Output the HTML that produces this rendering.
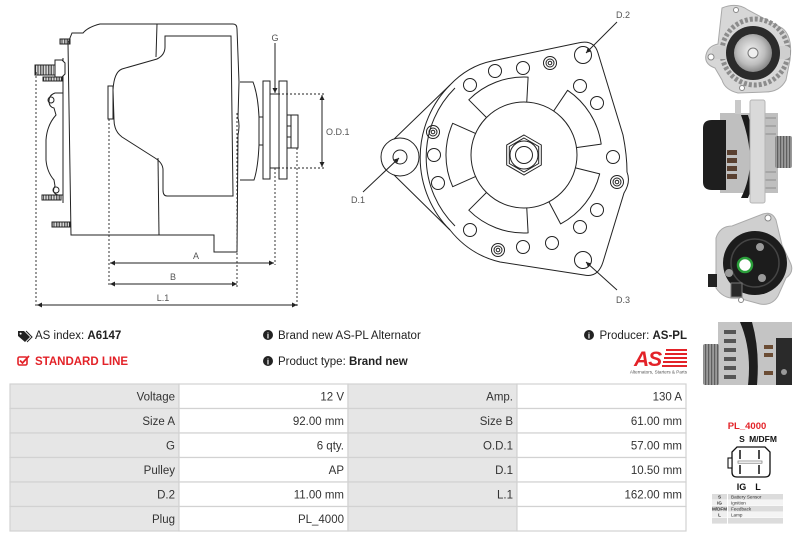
<!DOCTYPE html>
<html><head><meta charset="utf-8"><style>
html,body{margin:0;padding:0;background:#fff;width:800px;height:540px;overflow:hidden}
svg{display:block}
text{font-family:"Liberation Sans",Arial,sans-serif}
</style></head><body>
<svg width="800" height="540" viewBox="0 0 800 540" xmlns="http://www.w3.org/2000/svg">
<defs>
<marker id="ah" viewBox="0 0 6 6" refX="6" refY="3" markerWidth="5" markerHeight="5" markerUnits="userSpaceOnUse" orient="auto-start-reverse"><path d="M0,0 L6,3 L0,6 z" fill="#222"/></marker>
<pattern id="h" width="1.6" height="4" patternUnits="userSpaceOnUse"><rect width="0.8" height="4" fill="#333"/></pattern>
<radialGradient id="hub" cx="0.45" cy="0.45" r="0.6"><stop offset="0" stop-color="#f2f2f2"/><stop offset="0.6" stop-color="#bdbdbd"/><stop offset="1" stop-color="#7d7d7d"/></radialGradient>
<pattern id="rib" width="3" height="4" patternUnits="userSpaceOnUse"><rect width="3" height="4" fill="#9a9a9a"/><rect width="1.2" height="4" fill="#5e5e5e"/></pattern>
</defs>
<rect width="800" height="540" fill="#fff"/>

<!-- LEFT SIDE DRAWING -->
<g stroke="#222" stroke-width="1" fill="none">
<path d="M72,33 L83,33 Q88,27 100,24 L233,24 Q237,24 237,29 L239,82 L238,118 Q240,125 238,135 L237,252 L214,252 L214,235 L71,235 L68,43 Z" fill="#fff"/>
<path d="M157,24 L156,57"/>
<path d="M158,158 L159,235"/>
<path d="M165,36 L231,36 L233,196 L167,196 Q163,196 163,190 L163,170 Q163,163 155,158 L122,137 Q114,131 114,120 L113,90 Q114,72 122,69 L157,59 Q165,55 165,47 Z"/>
<rect x="108" y="86" width="5" height="33"/>
<path d="M240,82 L253,82 Q258,95 259,117 L259,145 Q258,168 254,180 L240,180"/>
<rect x="259" y="117" width="4" height="28"/>
<rect x="263" y="81" width="7" height="98"/>
<rect x="270" y="94" width="9" height="74"/>
<rect x="279" y="81" width="8" height="98"/>
<rect x="287" y="115" width="11" height="33"/>
<line x1="291" y1="115" x2="291" y2="148"/>
<line x1="287" y1="126" x2="291" y2="126"/>
<line x1="287" y1="137" x2="291" y2="137"/>
<!-- rear cover -->
<line x1="63" y1="58" x2="63" y2="203"/>
<path d="M63,93 L55,93 Q49,95 49,101 Q49,107 54,108 L56,115 Q47,125 46,140 L46,160 Q47,172 54,180 L55,186 Q51,193 58,195 L63,195"/>
<circle cx="51" cy="100" r="3"/>
<circle cx="56" cy="190" r="3"/>
<!-- bolts -->
<rect x="60" y="39" width="10" height="5" fill="url(#h)"/>
<rect x="35" y="65" width="20" height="10" fill="url(#h)"/>
<path d="M55,60 L62,60 L65,63 L65,74 L62,77 L55,77 Z" fill="#fff"/>
<rect x="43" y="77" width="19" height="4" fill="url(#h)"/>
<rect x="42" y="195" width="19" height="5" fill="url(#h)"/>
<rect x="52" y="222" width="18" height="5" fill="url(#h)"/>
<!-- dashed -->
<g stroke-dasharray="2,2" stroke-width="0.9">
<line x1="36" y1="72" x2="36" y2="307"/>
<line x1="109" y1="119" x2="109" y2="287"/>
<line x1="237" y1="113" x2="237" y2="288"/>
<line x1="275" y1="168" x2="275" y2="265"/>
<line x1="297" y1="148" x2="297" y2="307"/>
<line x1="270" y1="94" x2="325" y2="94"/>
<line x1="270" y1="168" x2="325" y2="168"/>
</g>
<!-- dimension arrows -->
<line x1="110" y1="263" x2="274" y2="263" marker-start="url(#ah)" marker-end="url(#ah)"/>
<line x1="110" y1="284" x2="237" y2="284" marker-start="url(#ah)" marker-end="url(#ah)"/>
<line x1="37" y1="305" x2="297" y2="305" marker-start="url(#ah)" marker-end="url(#ah)"/>
<line x1="322" y1="95" x2="322" y2="167" marker-start="url(#ah)" marker-end="url(#ah)"/>
<line x1="275" y1="43" x2="275" y2="93" marker-end="url(#ah)"/>
</g>
<g font-size="9" fill="#555">
<text x="275" y="41" text-anchor="middle">G</text>
<text x="196" y="259" text-anchor="middle">A</text>
<text x="173" y="280" text-anchor="middle">B</text>
<text x="163" y="301" text-anchor="middle">L.1</text>
<text x="326" y="135">O.D.1</text>
</g>

<!-- MIDDLE FRONT DRAWING -->
<g stroke="#222" stroke-width="1" fill="none">
<path d="M390,143 L450,85 Q468,66 492,61 L578,43 Q594,39 598,53 L623,135 Q627,155 627,172 Q631,182 624,193 L603,262 Q598,278 584,275 L500,262 Q470,255 450,230 L390,171" fill="#fff"/>
<circle cx="400" cy="157" r="19" fill="#fff"/>
<circle cx="400" cy="157" r="7"/>
<path d="M450,85 A103,103 0 0 0 450,230"/>
<path d="M455,88 A97,97 0 0 0 455,226"/>
<!-- windows -->
<path d="M478.3,175.3 L452.7,186.7 A78,78 0 0 1 452.7,123.3 L478.3,134.7 A50,50 0 0 0 478.3,175.3 Z" stroke-linejoin="round"/>
<path d="M488.6,119.6 L468.8,99.8 A78,78 0 0 1 528.1,77.1 L526.6,105.1 A50,50 0 0 0 488.6,119.6 Z" stroke-linejoin="round"/>
<path d="M552,113.5 L567.6,90.3 A78,78 0 0 1 601.2,144.1 L573.5,148 A50,50 0 0 0 552,113.5 Z" stroke-linejoin="round"/>
<path d="M572.5,167.1 L599.7,173.9 A78,78 0 0 1 560.6,223.9 L547.5,199.1 A50,50 0 0 0 572.5,167.1 Z" stroke-linejoin="round"/>
<path d="M526.6,204.9 L528.1,232.9 A78,78 0 0 1 468.8,210.2 L488.6,190.4 A50,50 0 0 0 526.6,204.9 Z" stroke-linejoin="round"/>
<circle cx="524" cy="155" r="53" fill="#fff"/>
<polygon points="524,135 541.3,145 541.3,165 524,175 506.7,165 506.7,145"/>
<polygon points="524,138 538.7,146.5 538.7,163.5 524,172 509.3,163.5 509.3,146.5"/>
<circle cx="524" cy="155" r="14"/>
<circle cx="524" cy="155" r="8.5"/>
<!-- holes -->
<circle cx="495" cy="71" r="6.5"/>
<circle cx="523" cy="68" r="6.5"/>
<circle cx="470" cy="85" r="6.5"/>
<circle cx="580" cy="86" r="6.5"/>
<circle cx="597" cy="103" r="6.5"/>
<circle cx="434" cy="155" r="6.5"/>
<circle cx="438" cy="183" r="6.5"/>
<circle cx="613" cy="157" r="6.5"/>
<circle cx="597" cy="210" r="6.5"/>
<circle cx="580" cy="227" r="6.5"/>
<circle cx="470" cy="230" r="6.5"/>
<circle cx="523" cy="247" r="6.5"/>
<circle cx="552" cy="243" r="6.5"/>
<circle cx="550" cy="63" r="6.5"/><circle cx="550" cy="63" r="4"/><circle cx="550" cy="63" r="1.8"/>
<circle cx="433" cy="132" r="6.5"/><circle cx="433" cy="132" r="4"/><circle cx="433" cy="132" r="1.8"/>
<circle cx="617" cy="182" r="6.5"/><circle cx="617" cy="182" r="4"/><circle cx="617" cy="182" r="1.8"/>
<circle cx="498" cy="250" r="6.5"/><circle cx="498" cy="250" r="4"/><circle cx="498" cy="250" r="1.8"/>
<circle cx="583" cy="55" r="8.5"/>
<circle cx="583" cy="260" r="8.5"/>
<!-- leaders -->
<line x1="617" y1="22" x2="586" y2="53" marker-end="url(#ah)"/>
<line x1="617" y1="290" x2="586" y2="262" marker-end="url(#ah)"/>
<line x1="363" y1="192" x2="399" y2="158" marker-end="url(#ah)"/>
</g>
<g font-size="9" fill="#555">
<text x="623" y="18" text-anchor="middle">D.2</text>
<text x="623" y="303" text-anchor="middle">D.3</text>
<text x="358" y="203" text-anchor="middle">D.1</text>
</g>

<!-- PHOTOS -->
<!-- photo 1 -->
<g>
<path d="M722,8 Q737,2 748,10 L782,28 Q793,36 790,60 L786,80 Q780,92 765,92 L738,93 Q725,90 722,80 L715,68 Q704,64 706,55 Q708,46 718,44 Z" fill="#d7d7d7" stroke="#a9a9a9"/>
<circle cx="755" cy="52" r="33" fill="none" stroke="#8c8c8c" stroke-width="5" stroke-dasharray="3,2"/>
<rect x="712" y="46" width="78" height="13" rx="4" fill="#cfcfcf"/>
<circle cx="753" cy="53" r="27" fill="#2b2b2b"/>
<circle cx="753" cy="53" r="19" fill="url(#hub)"/>
<circle cx="753" cy="53" r="5" fill="#efefef" stroke="#777"/>
<circle cx="711" cy="57" r="3" fill="#fff" stroke="#888"/>
<circle cx="736" cy="10" r="2.5" fill="#fff" stroke="#888"/>
<circle cx="742" cy="88" r="2.5" fill="#fff" stroke="#888"/>
</g>
<!-- photo 2 -->
<g>
<rect x="720" y="113" width="58" height="80" fill="#bfbfbf"/>
<g stroke="#8d8d8d" stroke-width="1">
<line x1="764" y1="118" x2="776" y2="118"/><line x1="764" y1="126" x2="776" y2="126"/><line x1="764" y1="134" x2="776" y2="134"/>
<line x1="764" y1="172" x2="776" y2="172"/><line x1="764" y1="180" x2="776" y2="180"/><line x1="764" y1="188" x2="776" y2="188"/>
</g>
<path d="M703,128 Q703,120 712,120 L726,120 L726,190 L712,190 Q703,190 703,182 Z" fill="#1e1e1e"/>
<rect x="727" y="150" width="10" height="5" fill="#5a4030"/>
<rect x="727" y="158" width="10" height="5" fill="#5a4030"/>
<rect x="727" y="166" width="10" height="5" fill="#5a4030"/>
<rect x="727" y="174" width="10" height="5" fill="#5a4030"/>
<path d="M741,115 Q750,140 750,160 Q750,180 741,198 L748,198 Q756,178 756,160 Q756,140 748,115 Z" fill="#1a1a1a"/>
<rect x="750" y="100" width="15" height="103" rx="2" fill="#d9d9d9" stroke="#b5b5b5"/>
<rect x="735" y="100" width="6" height="14" fill="#c9c9c9"/>
<rect x="775" y="136" width="17" height="32" rx="2" fill="url(#rib)"/>
</g>
<!-- photo 3 -->
<g>
<path d="M716,238 Q720,226 732,226 L763,214 Q772,211 776,220 L782,245 L790,262 Q795,272 786,278 L778,296 Q772,306 760,304 L738,298 Q724,300 716,288 Z" fill="#cfcfcf" stroke="#aaa"/>
<circle cx="755" cy="263" r="32" fill="#1c1c1c"/>
<circle cx="755" cy="263" r="24" fill="none" stroke="#454545" stroke-width="1.5"/>
<circle cx="745" cy="265" r="7" fill="#fff" stroke="#2a9d3a" stroke-width="2.5"/>
<circle cx="760" cy="247" r="4" fill="#9a9a9a"/>
<circle cx="729" cy="273" r="4" fill="#9a9a9a"/>
<circle cx="762" cy="278" r="4" fill="#9a9a9a"/>
<rect x="731" y="283" width="11" height="14" fill="#2a2a2a" stroke="#777"/>
<rect x="708" y="274" width="9" height="13" fill="#222"/>
<circle cx="768" cy="218" r="3" fill="#fff" stroke="#888"/>
<circle cx="741" cy="300" r="2.5" fill="#fff" stroke="#888"/>
</g>
<!-- photo 4 -->
<g>
<rect x="718" y="322" width="74" height="63" fill="#c4c4c4"/>
<g fill="#555">
<rect x="724" y="330" width="12" height="4"/><rect x="724" y="339" width="12" height="4"/><rect x="724" y="348" width="12" height="4"/><rect x="724" y="357" width="12" height="4"/><rect x="724" y="366" width="12" height="4"/><rect x="724" y="375" width="12" height="4"/>
</g>
<path d="M740,322 Q752,350 748,385 L757,385 Q760,350 752,322 Z" fill="#1e1e1e"/>
<g fill="#6b4c34">
<rect x="764" y="345" width="9" height="4"/><rect x="764" y="353" width="9" height="4"/><rect x="764" y="371" width="9" height="4"/>
</g>
<path d="M776,338 L792,338 L792,385 L776,385 Z" fill="#2a2a2a"/>
<circle cx="784" cy="372" r="3" fill="#999"/>
<rect x="703" y="344" width="16" height="41" rx="2" fill="url(#rib)"/>
</g>

<!-- INFO ROWS -->
<g font-size="11.5" fill="#222">
<path d="M18,331 L24,331 L30,337 L25,342 L18,336 Z" fill="#222"/>
<circle cx="20.6" cy="333.6" r="1" fill="#fff"/>
<path d="M26,331 L32,337 L27,342" fill="none" stroke="#222" stroke-width="1"/>
<text x="35" y="339">AS index: <tspan font-weight="bold">A6147</tspan></text>
<rect x="18" y="357" width="9" height="8" rx="1.5" fill="none" stroke="#e32228" stroke-width="1.6"/>
<path d="M20,360.5 L22.5,363 L29,356" fill="none" stroke="#e32228" stroke-width="1.8"/>
<text x="35" y="365" fill="#e32228" font-weight="bold">STANDARD LINE</text>

<circle cx="268" cy="335" r="5" fill="#222"/>
<text x="268" y="338.5" font-size="8" font-weight="bold" fill="#fff" text-anchor="middle">i</text>
<text x="278" y="339">Brand new AS-PL Alternator</text>
<circle cx="268" cy="361" r="5" fill="#222"/>
<text x="268" y="364.5" font-size="8" font-weight="bold" fill="#fff" text-anchor="middle">i</text>
<text x="278" y="365">Product type: <tspan font-weight="bold">Brand new</tspan></text>

<circle cx="589" cy="335" r="5" fill="#222"/>
<text x="589" y="338.5" font-size="8" font-weight="bold" fill="#fff" text-anchor="middle">i</text>
<text x="687" y="339" text-anchor="end">Producer: <tspan font-weight="bold">AS-PL</tspan></text>
</g>
<!-- AS logo -->
<g>
<text x="634" y="366" font-size="21" font-weight="bold" font-style="italic" fill="#e32228" letter-spacing="-1">AS</text>
<g fill="#e32228">
<rect x="666" y="349" width="21" height="2"/><rect x="665" y="353" width="22" height="2"/><rect x="664" y="357" width="23" height="2"/><rect x="663" y="361" width="24" height="2"/><rect x="662" y="365" width="25" height="2"/>
</g>
<text x="687" y="373.5" font-size="4.6" fill="#555" text-anchor="end">Alternators, Starters &amp; Parts</text>
</g>

<!-- TABLE -->
<g stroke="#d2d2d2" stroke-width="1.2">
<rect x="10" y="384" width="169" height="24.5" fill="#e6e6e6"/><rect x="179" y="384" width="169" height="24.5" fill="#fff"/><rect x="348" y="384" width="169" height="24.5" fill="#e6e6e6"/><rect x="517" y="384" width="169" height="24.5" fill="#fff"/>
<rect x="10" y="408.5" width="169" height="24.5" fill="#e6e6e6"/><rect x="179" y="408.5" width="169" height="24.5" fill="#fff"/><rect x="348" y="408.5" width="169" height="24.5" fill="#e6e6e6"/><rect x="517" y="408.5" width="169" height="24.5" fill="#fff"/>
<rect x="10" y="433" width="169" height="24.5" fill="#e6e6e6"/><rect x="179" y="433" width="169" height="24.5" fill="#fff"/><rect x="348" y="433" width="169" height="24.5" fill="#e6e6e6"/><rect x="517" y="433" width="169" height="24.5" fill="#fff"/>
<rect x="10" y="457.5" width="169" height="24.5" fill="#e6e6e6"/><rect x="179" y="457.5" width="169" height="24.5" fill="#fff"/><rect x="348" y="457.5" width="169" height="24.5" fill="#e6e6e6"/><rect x="517" y="457.5" width="169" height="24.5" fill="#fff"/>
<rect x="10" y="482" width="169" height="24.5" fill="#e6e6e6"/><rect x="179" y="482" width="169" height="24.5" fill="#fff"/><rect x="348" y="482" width="169" height="24.5" fill="#e6e6e6"/><rect x="517" y="482" width="169" height="24.5" fill="#fff"/>
<rect x="10" y="506.5" width="169" height="24.5" fill="#e6e6e6"/><rect x="179" y="506.5" width="169" height="24.5" fill="#fff"/><rect x="348" y="506.5" width="169" height="24.5" fill="#e6e6e6"/><rect x="517" y="506.5" width="169" height="24.5" fill="#fff"/>
</g>
<g font-size="11.5" fill="#333" text-anchor="end">
<text x="175" y="400.5">Voltage</text><text x="344" y="400.5">12 V</text><text x="513" y="400.5">Amp.</text><text x="682" y="400.5">130 A</text>
<text x="175" y="425">Size A</text><text x="344" y="425">92.00 mm</text><text x="513" y="425">Size B</text><text x="682" y="425">61.00 mm</text>
<text x="175" y="449.5">G</text><text x="344" y="449.5">6 qty.</text><text x="513" y="449.5">O.D.1</text><text x="682" y="449.5">57.00 mm</text>
<text x="175" y="474">Pulley</text><text x="344" y="474">AP</text><text x="513" y="474">D.1</text><text x="682" y="474">10.50 mm</text>
<text x="175" y="498.5">D.2</text><text x="344" y="498.5">11.00 mm</text><text x="513" y="498.5">L.1</text><text x="682" y="498.5">162.00 mm</text>
<text x="175" y="523">Plug</text><text x="344" y="523">PL_4000</text>
</g>

<!-- CONNECTOR -->
<g>
<text x="747" y="429" font-size="9.5" font-weight="bold" fill="#e32228" text-anchor="middle">PL_4000</text>
<text x="742" y="442" font-size="8.5" font-weight="bold" fill="#111" text-anchor="middle">S</text>
<text x="763" y="442" font-size="8.5" font-weight="bold" fill="#111" text-anchor="middle">M/DFM</text>
<path d="M737,447 L765,447 L770,452 L770,472 Q770,477 765,477 L737,477 Q732,477 732,472 L732,452 Z" fill="#fff" stroke="#111" stroke-width="1.3"/>
<rect x="728" y="458" width="4" height="10" fill="#fff" stroke="#111" stroke-width="1.1"/>
<g stroke="#111" stroke-width="1.5">
<line x1="740" y1="450" x2="740" y2="459"/><line x1="759" y1="450" x2="759" y2="459"/>
<line x1="740" y1="465" x2="740" y2="474"/><line x1="759" y1="465" x2="759" y2="474"/>
</g>
<rect x="738" y="461" width="24" height="2.2" fill="#fff" stroke="#777" stroke-width="0.7"/>
<text x="741.5" y="490" font-size="9" font-weight="bold" fill="#111" text-anchor="middle">IG</text>
<text x="758" y="490" font-size="9" font-weight="bold" fill="#111" text-anchor="middle">L</text>
<rect x="712" y="494" width="15" height="5.6" fill="#dcdcdc"/><rect x="728" y="494" width="55" height="5.6" fill="#dcdcdc"/>
<rect x="712" y="500" width="15" height="5.6" fill="#efefef"/><rect x="728" y="500" width="55" height="5.6" fill="#f4f4f4"/>
<rect x="712" y="506" width="15" height="5.6" fill="#dcdcdc"/><rect x="728" y="506" width="55" height="5.6" fill="#dcdcdc"/>
<rect x="712" y="512" width="15" height="5.6" fill="#efefef"/><rect x="728" y="512" width="55" height="5.6" fill="#f4f4f4"/>
<rect x="712" y="518" width="15" height="5.6" fill="#dcdcdc"/><rect x="728" y="518" width="55" height="5.6" fill="#dcdcdc"/>
<g font-size="4.6" fill="#333">
<text x="719.5" y="498.5" text-anchor="middle" font-weight="bold">S</text><text x="731" y="498.5">Battery Sensor</text>
<text x="719.5" y="504.5" text-anchor="middle" font-weight="bold">IG</text><text x="731" y="504.5">Ignition</text>
<text x="719.5" y="510.5" text-anchor="middle" font-weight="bold">M/DFM</text><text x="731" y="510.5">Feedback</text>
<text x="719.5" y="516.5" text-anchor="middle" font-weight="bold">L</text><text x="731" y="516.5">Lamp</text>
</g>
</g>
</svg>
</body></html>
